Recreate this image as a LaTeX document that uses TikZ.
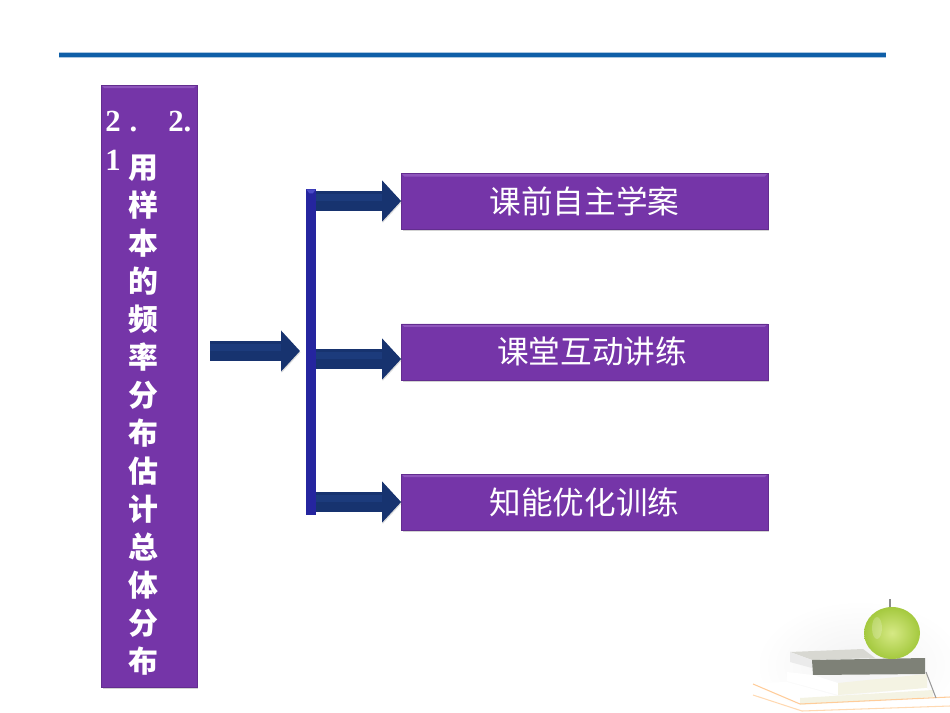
\documentclass[tikz,border=0pt]{standalone}
\usepackage{fontspec}
\setmainfont{Liberation Serif}
\newfontfamily\cjk{Noto Sans CJK SC}
\usetikzlibrary{arrows.meta,positioning,shadows}

\definecolor{boxpurple}{HTML}{7535A8}
\definecolor{boxlight}{HTML}{8E55BC}
\definecolor{barblue}{HTML}{25259F}
\definecolor{barlight}{HTML}{4A4AC8}
\definecolor{arrowblue}{HTML}{17336F}
\definecolor{arrowlight}{HTML}{1C3B7C}
\definecolor{ruleblue}{HTML}{0F5FA8}
\definecolor{bookgrey}{HTML}{7E8177}
\definecolor{booktop}{HTML}{D8D8D2}
\definecolor{bookface}{HTML}{F4F3E3}
\definecolor{applein}{HTML}{D6E985}
\definecolor{appleout}{HTML}{A4C93E}

\tikzset{
    purplebox/.style={fill=boxpurple, draw=boxpurple!85!black, line width=0.2pt, text=white,
        drop shadow={shadow xshift=1pt, shadow yshift=-1pt, opacity=0.35},
        path picture={\fill[boxlight] (path picture bounding box.north west) -- (path picture bounding box.north east)
            -- ([xshift=-0.06cm,yshift=-0.06cm]path picture bounding box.north east)
            -- ([xshift=0.06cm,yshift=-0.06cm]path picture bounding box.north west) -- cycle;}},
    menubox/.style={purplebox, minimum width=7.33cm, minimum height=1.12cm, inner sep=0pt,
        font=\cjk\fontsize{18}{18}\selectfont},
    flow/.style={-{Triangle[length=0.38cm,width=0.8cm]}, line width=0.39cm, draw=arrowblue,
        preaction={draw=black!45, opacity=0.3, transform canvas={shift={(0.3pt,-0.8pt)}}},
        postaction={draw=arrowlight, arrows=-, line width=0.15cm, shorten >=0.38cm, transform canvas={yshift=0.07cm}}}
}

\begin{document}
\begin{tikzpicture}[x=0.02cm, y=-0.02cm, node distance=1.88cm]
    \useasboundingbox (0,0) rectangle (950,713);

    % top rule
    \fill[ruleblue!35] (59,52.5) rectangle (886,58.5);
    \fill[ruleblue] (59,53.5) rectangle (886,57.5);

    % left title
    \node (title) [purplebox, minimum width=1.91cm, minimum height=12.04cm, inner sep=0pt] at (149,386) {};
    \node (num) [text=white, font=\bfseries\fontsize{17.5}{22}\selectfont, text width=1.72cm, inner sep=0pt, anchor=north west] at (105,111)
        {\hbox to 1.72cm{2\hspace{0.18cm}.\hfill 2.}\par 1};
    \node (titletext) [text=white, font=\cjk\bfseries\fontsize{17}{21.63}\selectfont, align=center, inner sep=0pt, anchor=north] at (143.5,154.5)
        {用\\样\\本\\的\\频\\率\\分\\布\\估\\计\\总\\体\\分\\布};

    % menu boxes
    \node (box1) [menubox] at (584.5,201.5) {课前自主学案};
    \node (box2) [menubox, below=of box1] {\hspace*{0.3cm}课堂互动讲练};
    \node (box3) [menubox, below=of box2] {知能优化训练};

    % bar
    \node (bar) [fill=barblue, minimum width=0.19cm, minimum height=6.52cm, inner sep=0pt, anchor=north west,
        path picture={\fill[barlight] (path picture bounding box.north west) -- (path picture bounding box.north east)
            -- ([xshift=-0.06cm,yshift=-0.08cm]path picture bounding box.north east)
            -- ([xshift=0.06cm,yshift=-0.08cm]path picture bounding box.north west) -- cycle;}] at (306,189) {};

    % arrows
    \coordinate (in) at (210,351);
    \coordinate (inend) at (300,351);
    \coordinate (c1) at (316,201);
    \coordinate (c2) at (316,359);
    \coordinate (c3) at (316,502);
    \draw [flow] (in) -- (inend);
    \draw [flow] (c1) -- (c1 -| box1.west);
    \draw [flow] (c2) -- (c2 -| box2.west);
    \draw [flow] (c3) -- (c3 -| box3.west);

    % apple and books
    \shade[inner color=black!5, outer color=white] (860,665) ellipse (105 and 65);
    \fill[booktop] (790,652) -- (863,649) -- (875,658) -- (812,660) -- cycle;
    \fill[black!8] (790,652) -- (812,660) -- (812,668) -- (790,662) -- cycle;
    \fill[bookgrey] (812,660) -- (925,658) -- (925,674) -- (813,675) -- cycle;
    \fill[white] (787,672) -- (813,675) -- (838,683) -- (838,695) -- (787,681) -- cycle;
    \fill[bookface] (838,683) -- (927,674) -- (927,688) -- (838,695) -- cycle;
    \fill[yellow!30] (787,685) -- (823,693) -- (800,693) -- (770,686) -- cycle;
    \fill[white] (753,683) -- (787,682) -- (838,696) -- (927,688) -- (933,697) -- (800,705) -- cycle;
    \fill[bookface] (800,698) -- (933,690) -- (933,697) -- (800,705) -- cycle;
    \draw[orange!40, line width=0.6pt] (753,684) -- (800,704) -- (950,697);
    \fill[white] (753,690) -- (800,705) -- (950,698) -- (950,713) -- (780,713) -- cycle;
    \draw[orange!30, line width=0.6pt] (753,695) -- (802,711) -- (950,706);
    \draw[black!40, line width=0.6pt] (926,672) -- (936,698);
    \draw[black!45, line width=1pt] (890,599) -- (890,607);
    \shade[inner color=applein, outer color=appleout] (892,633) ellipse (28 and 26);
    \fill[white, opacity=0.2] (877,628) ellipse (5 and 11);
\end{tikzpicture}
\end{document}
